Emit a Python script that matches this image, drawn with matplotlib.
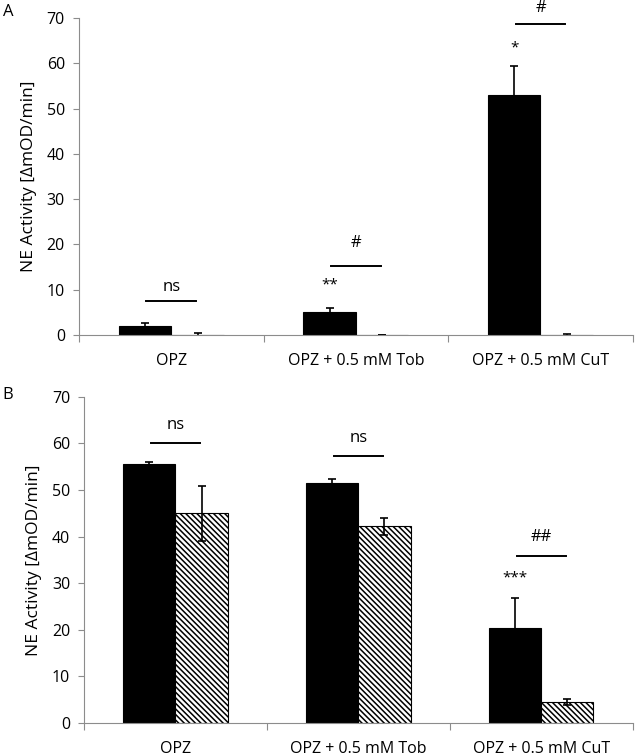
import matplotlib
matplotlib.use("Agg")
import matplotlib.pyplot as plt
import numpy as np

plt.rcParams.update({
    "font.family": ["Open Sans", "DejaVu Sans"],
    "font.size": 11.5,
    "hatch.linewidth": 1.1,
})

categories = ["OPZ", "OPZ + 0.5 mM Tob", "OPZ + 0.5 mM CuT"]

# panel A
a_black = [2.0, 5.1, 53.0]
a_black_err = [0.7, 0.8, 6.5]
a_hatch = [-0.1, 0.0, 0.0]
a_hatch_err = [0.6, 0.0, 0.2]

# panel B
b_black = [55.5, 51.6, 20.3]
b_black_err = [0.5, 0.8, 6.6]
b_hatch = [45.0, 42.2, 4.4]
b_hatch_err = [5.9, 1.8, 0.6]

# significance annotations: (category, line y, text, text y, star text, star y)
a_sig = [(0, 7.5, "ns", 10.6, "", 0), (1, 15.2, "#", 20.2, "**", 11.0), (2, 68.6, "#", 72.2, "*", 63.5)]
b_sig = [(0, 60.2, "ns", 64.0, "", 0), (1, 57.4, "ns", 61.2, "", 0), (2, 35.8, "##", 40.0, "***", 31.0)]

GREY = "#8c8c8c"
W = 0.285


def draw_panel(ax, black, black_err, hatch, hatch_err, sig):
    x = np.arange(len(categories))
    ax.bar(x - W / 2, black, W, color="black", edgecolor="black", linewidth=0.8)
    ax.bar(x + W / 2, hatch, W, color="white", edgecolor="black", hatch="\\\\\\\\\\\\", linewidth=0.8)
    ax.errorbar(x - W / 2, black, yerr=black_err, fmt="none", ecolor="black", elinewidth=1.2, capsize=3, capthick=1.2)
    ax.errorbar(x + W / 2, hatch, yerr=hatch_err, fmt="none", ecolor="black", elinewidth=1.2, capsize=3, capthick=1.2)
    for i, ly, txt, ty, star, sy in sig:
        ax.plot([i - 0.135, i + 0.135], [ly, ly], color="black", lw=1.4, clip_on=False)
        ax.text(i, ty, txt, ha="center", va="center", fontsize=12, clip_on=False)
        if star:
            ax.text(i - W / 2, sy, star, ha="center", va="center", fontsize=11, clip_on=False)
    ax.set_xlim(-0.5, 2.5)
    ax.set_ylim(0, 70)
    ax.set_yticks(range(0, 71, 10))
    ax.set_xticks([-0.5, 0.5, 1.5, 2.5])
    ax.set_xticklabels([])
    ax.set_xticks(x, minor=True)
    ax.set_xticklabels(categories, minor=True)
    ax.tick_params(axis="x", which="minor", length=0, pad=13)
    ax.tick_params(axis="x", which="major", length=5, color=GREY, direction="out")
    ax.tick_params(axis="y", length=4, color=GREY, pad=6)
    for s in ["top", "right"]:
        ax.spines[s].set_visible(False)
    for s in ["left", "bottom"]:
        ax.spines[s].set_color(GREY)
    ax.set_ylabel("NE Activity [ΔmOD/min]", fontsize=12.5, labelpad=7)


fig = plt.figure(figsize=(6.36, 7.56), dpi=100)
axA = fig.add_axes([0.124, 0.557, 0.871, 0.419])
axB = fig.add_axes([0.132, 0.044, 0.863, 0.431])
draw_panel(axA, a_black, a_black_err, a_hatch, a_hatch_err, a_sig)
draw_panel(axB, b_black, b_black_err, b_hatch, b_hatch_err, b_sig)
fig.text(0.004, 0.984, "A", fontsize=12, va="center")
fig.text(0.004, 0.478, "B", fontsize=12, va="center")
fig.savefig("out.png", dpi=100)
